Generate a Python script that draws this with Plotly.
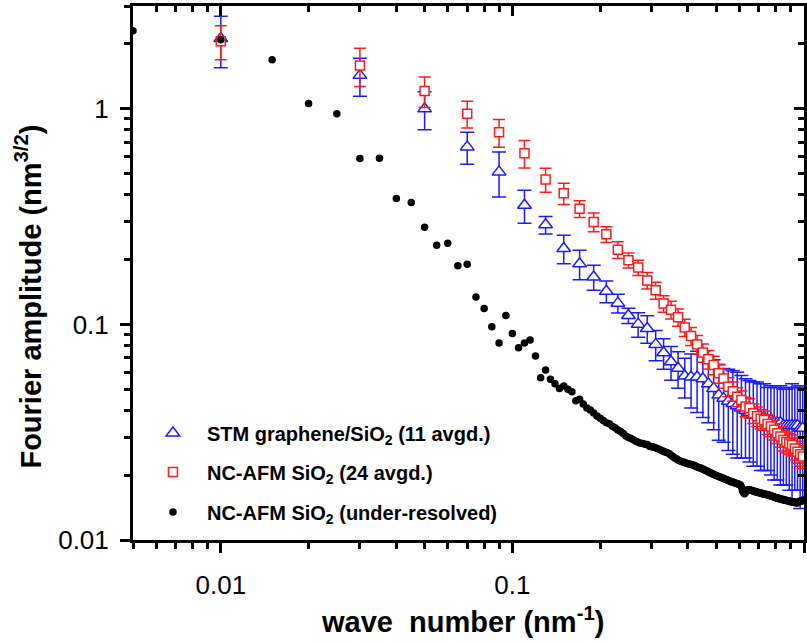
import plotly.graph_objects as go

# ---------------- data ----------------
wave_avg = [0.01, 0.03, 0.05, 0.07, 0.09, 0.11, 0.13, 0.15, 0.17, 0.19,
            0.21, 0.23, 0.25, 0.27, 0.29, 0.31, 0.33, 0.35, 0.37, 0.39,
            0.41, 0.43, 0.45, 0.47, 0.49, 0.51, 0.53, 0.55, 0.57, 0.59,
            0.61, 0.63, 0.65, 0.67, 0.69, 0.71, 0.73, 0.75, 0.77, 0.79,
            0.81, 0.83, 0.85, 0.87, 0.89, 0.91, 0.93, 0.95, 0.97, 0.99]

stm_amp = [2.12, 1.43, 1.00, 0.666, 0.51, 0.357, 0.29, 0.225, 0.191, 0.166,
           0.1425, 0.1255, 0.110, 0.1003, 0.0958, 0.0808, 0.0739, 0.0671, 0.0626, 0.0576,
           0.057, 0.057, 0.056, 0.053, 0.0505, 0.047, 0.0454, 0.044, 0.043, 0.042,
           0.041, 0.040, 0.039, 0.038, 0.038, 0.037, 0.037, 0.036, 0.036, 0.035,
           0.035, 0.035, 0.034, 0.034, 0.034, 0.034, 0.034, 0.034, 0.033, 0.033]
stm_err = [0.57, 0.285, 0.20, 0.113, 0.12, 0.062, 0.027, 0.034, 0.030, 0.022,
           0.0165, 0.0125, 0.009, 0.013, 0.014, 0.013, 0.012, 0.012, 0.012, 0.012,
           0.016, 0.018, 0.019, 0.018, 0.018, 0.018, 0.017, 0.018, 0.018, 0.018,
           0.017, 0.016, 0.016, 0.016, 0.016, 0.016, 0.016, 0.015, 0.016, 0.016,
           0.016, 0.017, 0.016, 0.016, 0.017, 0.019, 0.017, 0.017, 0.019, 0.018]

afm_amp = [2.06, 1.59, 1.21, 0.95, 0.778, 0.622, 0.470, 0.406, 0.344, 0.299,
           0.262, 0.222, 0.1985, 0.1836, 0.160, 0.144, 0.125, 0.117, 0.108, 0.0968,
           0.0883, 0.0808, 0.074, 0.0689, 0.0648, 0.0593, 0.0562, 0.0514, 0.049, 0.0462,
           0.0446, 0.0416, 0.0410, 0.0387, 0.0375, 0.0365, 0.0360, 0.0345, 0.0336, 0.0325,
           0.0313, 0.0302, 0.0291, 0.0285, 0.0280, 0.0276, 0.0266, 0.0257, 0.0250, 0.0244]
afm_err = [0.37, 0.32, 0.195, 0.135, 0.114, 0.091, 0.060, 0.046, 0.031, 0.030,
           0.022, 0.020, 0.016, 0.015, 0.014, 0.013, 0.011, 0.011, 0.010, 0.009,
           0.0085, 0.008, 0.0072, 0.0068, 0.0064, 0.006, 0.0056, 0.0052, 0.005, 0.0047,
           0.0045, 0.0043, 0.0042, 0.004, 0.0039, 0.0038, 0.0037, 0.0036, 0.0035, 0.0034,
           0.0033, 0.0033, 0.0032, 0.0032, 0.0031, 0.0031, 0.0031, 0.0030, 0.0030, 0.0030]

wave_ur = [0.005, 0.010, 0.015, 0.020, 0.025, 0.030, 0.035, 0.040, 0.045, 0.050,
           0.055, 0.060, 0.065, 0.070, 0.075, 0.080, 0.085, 0.090, 0.095, 0.100,
           0.105, 0.110, 0.115, 0.120, 0.125, 0.130, 0.135, 0.140, 0.145, 0.150,
           0.155, 0.160, 0.165, 0.170, 0.175, 0.180, 0.185, 0.190, 0.195, 0.200,
           0.205, 0.210, 0.215, 0.220, 0.225, 0.230, 0.235, 0.240, 0.245, 0.250,
           0.255, 0.260, 0.265, 0.270, 0.275, 0.280, 0.285, 0.290, 0.295, 0.300,
           0.305, 0.310, 0.315, 0.320, 0.325, 0.330, 0.335, 0.340, 0.345, 0.350,
           0.355, 0.360, 0.365, 0.370, 0.375, 0.380, 0.385, 0.390, 0.395, 0.400,
           0.405, 0.410, 0.415, 0.420, 0.425, 0.430, 0.435, 0.440, 0.445, 0.450,
           0.455, 0.460, 0.465, 0.470, 0.475, 0.480, 0.485, 0.490, 0.495, 0.500,
           0.505, 0.510, 0.515, 0.520, 0.525, 0.530, 0.535, 0.540, 0.545, 0.550,
           0.555, 0.560, 0.565, 0.570, 0.575, 0.580, 0.585, 0.590, 0.595, 0.600,
           0.605, 0.610, 0.615, 0.620, 0.625, 0.630, 0.635, 0.640, 0.645, 0.650,
           0.655, 0.660, 0.665, 0.670, 0.675, 0.680, 0.685, 0.690, 0.695, 0.700,
           0.705, 0.710, 0.715, 0.720, 0.725, 0.730, 0.735, 0.740, 0.745, 0.750,
           0.755, 0.760, 0.765, 0.770, 0.775, 0.780, 0.785, 0.790, 0.795, 0.800,
           0.805, 0.810, 0.815, 0.820, 0.825, 0.830, 0.835, 0.840, 0.845, 0.850,
           0.855, 0.860, 0.865, 0.870, 0.875, 0.880, 0.885, 0.890, 0.895, 0.900,
           0.905, 0.910, 0.915, 0.920, 0.925, 0.930, 0.935, 0.940, 0.945, 0.950,
           0.955, 0.960, 0.965, 0.970, 0.975, 0.980, 0.985, 0.990, 0.995, 1.000]
ur_amp = [2.30, 2.09, 1.69, 1.06, 0.95, 0.589, 0.59, 0.384, 0.368, 0.282,
          0.233, 0.238, 0.187, 0.19, 0.134, 0.1186, 0.0975, 0.082, 0.110, 0.0908,
          0.078, 0.082, 0.0846, 0.0713, 0.0566, 0.0614, 0.0557, 0.0530, 0.0505, 0.0518,
          0.0500, 0.0487, 0.0443, 0.0450, 0.0428, 0.0410, 0.0401, 0.0388, 0.0376, 0.0367,
          0.0358, 0.0350, 0.0346, 0.0337, 0.0332, 0.0324, 0.0319, 0.0312, 0.0304, 0.0299,
          0.0296, 0.0292, 0.0287, 0.0284, 0.0281, 0.0280, 0.0278, 0.0277, 0.0272, 0.0271,
          0.0270, 0.0268, 0.0265, 0.0263, 0.0260, 0.0258, 0.0255, 0.0254, 0.0251, 0.0247,
          0.0244, 0.0240, 0.0238, 0.0235, 0.0233, 0.0231, 0.0230, 0.0229, 0.0227, 0.0226,
          0.0225, 0.0224, 0.0223, 0.0222, 0.0220, 0.0218, 0.0217, 0.0216, 0.0215, 0.0213,
          0.0212, 0.0210, 0.0209, 0.0207, 0.0206, 0.0204, 0.0203, 0.0202, 0.0200, 0.0199,
          0.0198, 0.0197, 0.0196, 0.0195, 0.0194, 0.0193, 0.0192, 0.0191, 0.0190, 0.0189,
          0.0188, 0.0187, 0.0186, 0.0186, 0.0185, 0.0184, 0.0183, 0.0183, 0.0182, 0.0181,
          0.0180, 0.0176, 0.0169, 0.0166, 0.0164, 0.0166, 0.0169, 0.0171, 0.0171, 0.0171,
          0.0170, 0.0170, 0.0169, 0.0169, 0.0168, 0.0168, 0.0167, 0.0167, 0.0166, 0.0166,
          0.0165, 0.0165, 0.0165, 0.0164, 0.0164, 0.0163, 0.0163, 0.0163, 0.0162, 0.0162,
          0.0162, 0.0161, 0.0161, 0.0160, 0.0160, 0.0159, 0.0159, 0.0158, 0.0158, 0.0157,
          0.0157, 0.0156, 0.0156, 0.0156, 0.0155, 0.0155, 0.0155, 0.0154, 0.0154, 0.0154,
          0.0153, 0.0153, 0.0153, 0.0153, 0.0152, 0.0152, 0.0152, 0.0151, 0.0151, 0.0151,
          0.0151, 0.0150, 0.0150, 0.0150, 0.0150, 0.0150, 0.0149, 0.0149, 0.0149, 0.0149,
          0.0150, 0.0150, 0.0151, 0.0151, 0.0152, 0.0152, 0.0152, 0.0153, 0.0153, 0.0153]

major_vals = [0.01, 0.1, 1]
major_text = ["0.01", "0.1", "1"]
x_minor = [0.005, 0.006, 0.007, 0.008, 0.009,
           0.02, 0.03, 0.04, 0.05, 0.06, 0.07, 0.08, 0.09,
           0.2, 0.3, 0.4, 0.5, 0.6, 0.7, 0.8, 0.9]
y_minor = [0.02, 0.03, 0.04, 0.05, 0.06, 0.07, 0.08, 0.09,
           0.2, 0.3, 0.4, 0.5, 0.6, 0.7, 0.8, 0.9, 2, 3]

names = ["<b>STM graphene/SiO<sub>2</sub> (11 avgd.)</b>",
         "<b>NC-AFM SiO<sub>2</sub> (24 avgd.)</b>",
         "<b>NC-AFM SiO<sub>2</sub> (under-resolved)</b>"]

FONT = "Liberation Sans, Arial, sans-serif"
BLUE = "#1a1aff"
RED = "#ff1a1a"

fig = go.Figure()

fig.add_trace(go.Scatter(
    x=wave_avg, y=stm_amp, mode="markers", name=names[0], legend="legend",
    marker=dict(symbol="triangle-up", size=12, color="white",
                line=dict(color=BLUE, width=1.5)),
    error_y=dict(type="data", array=stm_err, symmetric=True,
                 color=BLUE, thickness=1.5, width=7)))

fig.add_trace(go.Scatter(
    x=wave_avg, y=afm_amp, mode="markers", name=names[1], legend="legend2",
    marker=dict(symbol="square", size=9, color="white",
                line=dict(color=RED, width=1.5)),
    error_y=dict(type="data", array=afm_err, symmetric=True,
                 color=RED, thickness=1.5, width=6)))

fig.add_trace(go.Scatter(
    x=wave_ur, y=ur_amp, mode="markers", name=names[2], legend="legend3",
    marker=dict(symbol="circle", size=7.5, color="black",
                line=dict(width=0))))

# dummy trace on the mirror axes (for inward mirrored ticks)
fig.add_trace(go.Scatter(x=[], y=[], xaxis="x2", yaxis="y2",
                         showlegend=False, hoverinfo="skip"))

xr = [-2.30103, 0.0]
yr = [-2.0, 0.4771]

axis_common = dict(
    type="log", showgrid=False, zeroline=False,
    showline=True, linecolor="black", linewidth=3, mirror=True,
    tickmode="array", tickvals=major_vals, ticktext=major_text,
    ticks="outside", ticklen=10, tickwidth=3, tickcolor="black",
    tickfont=dict(family=FONT, size=26, color="black"),
)

fig.update_layout(
    width=807, height=643,
    margin=dict(l=133, r=0, t=6, b=103),
    paper_bgcolor="white", plot_bgcolor="white",
    xaxis=dict(axis_common, range=xr, ticklabelstandoff=10,
               minor=dict(tickmode="array", tickvals=x_minor, ticks="outside",
                          ticklen=6, tickwidth=2.5, tickcolor="black")),
    yaxis=dict(axis_common, range=yr, ticklabelstandoff=6,
               minor=dict(tickmode="array", tickvals=y_minor, ticks="outside",
                          ticklen=6, tickwidth=2.5, tickcolor="black")),
    xaxis2=dict(type="log", range=xr, overlaying="x", side="top", anchor="y",
                showgrid=False, zeroline=False, showline=False,
                tickmode="array", tickvals=major_vals, showticklabels=False,
                ticks="inside", ticklen=10, tickwidth=3, tickcolor="black",
                minor=dict(tickmode="array", tickvals=x_minor, ticks="inside",
                           ticklen=6, tickwidth=2.5, tickcolor="black")),
    yaxis2=dict(type="log", range=yr, overlaying="y", side="right", anchor="x",
                showgrid=False, zeroline=False, showline=False,
                tickmode="array", tickvals=major_vals, showticklabels=False,
                ticks="inside", ticklen=10, tickwidth=3, tickcolor="black",
                minor=dict(tickmode="array", tickvals=y_minor, ticks="inside",
                           ticklen=6, tickwidth=2.5, tickcolor="black")),
    showlegend=True,
)

leg_common = dict(xanchor="left", yanchor="middle", bgcolor="rgba(0,0,0,0)",
                  borderwidth=0, itemwidth=58,
                  font=dict(family=FONT, size=20, color="black"))
fig.update_layout(
    legend=dict(leg_common, x=0.0089, y=0.2003),
    legend2=dict(leg_common, x=0.0089, y=0.1273),
    legend3=dict(leg_common, x=0.0089, y=0.0524),
)

fig.add_annotation(text="<b>Fourier amplitude (nm<sup>3/2</sup>)</b>",
                   xref="paper", yref="paper", x=-0.1558, y=0.4567,
                   xanchor="center", yanchor="middle", textangle=-90,
                   showarrow=False, font=dict(family=FONT, size=29, color="black"))
fig.add_annotation(text="<b>wave\u00a0\u00a0number (nm<sup>-1</sup>)</b>",
                   xref="paper", yref="paper", x=0.491, y=-0.1497,
                   xanchor="center", yanchor="middle",
                   showarrow=False, font=dict(family=FONT, size=29, color="black"))

fig.write_html("out.html")
